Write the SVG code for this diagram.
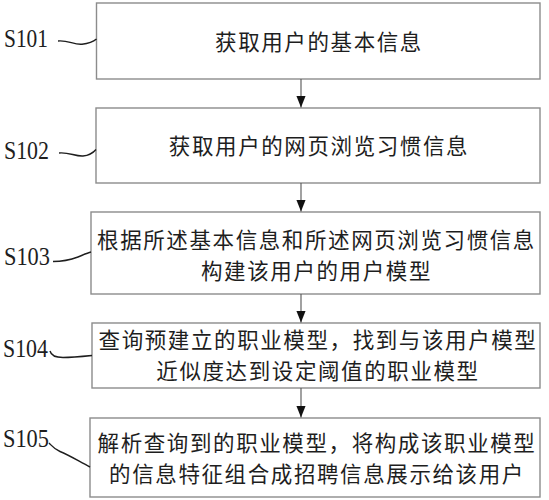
<svg xmlns="http://www.w3.org/2000/svg" width="549" height="500" viewBox="0 0 549 500">
<defs>
<style>
.box{fill:#ffffff;stroke:#8c8c8c;stroke-width:1.4}
.t2{font-family:"Noto Sans CJK SC","Noto Sans CJK TC",sans-serif;font-size:21.5px;letter-spacing:1.6px;fill:#1e1e1e;text-anchor:middle}
.lbl{font-family:"Liberation Serif","Times New Roman",serif;font-size:26px;fill:#1e1e1e}
.conn{fill:none;stroke:#555;stroke-width:1.1}
.lead{fill:none;stroke:#1e1e1e;stroke-width:1.4}
</style>
<marker id="ah" markerUnits="userSpaceOnUse" markerWidth="12" markerHeight="10" refX="12" refY="4.75" orient="auto">
<path d="M0,0 L12,4.75 L0,9.5 z" fill="#111"/>
</marker>
</defs>
<rect width="549" height="500" fill="#ffffff"/>

<g id="node-s101">
<rect class="box" x="96.5" y="3" width="443.5" height="76"/>
<text class="t2" x="319" y="50">获取用户的基本信息</text>
</g>
<g id="node-s102">
<rect class="box" x="96" y="108" width="444" height="75"/>
<text class="t2" x="319" y="153.5">获取用户的网页浏览习惯信息</text>
</g>
<g id="node-s103">
<rect class="box" x="91" y="212" width="449" height="82"/>
<text class="t2" x="316.5" y="247.5">根据所述基本信息和所述网页浏览习惯信息</text>
<text class="t2" x="316.5" y="278.5">构建该用户的用户模型</text>
</g>
<g id="node-s104">
<rect class="box" x="92" y="323" width="448" height="65"/>
<text class="t2" x="318" y="348">查询预建立的职业模型，找到与该用户模型</text>
<text class="t2" x="318" y="379">近似度达到设定阈值的职业模型</text>
</g>
<g id="node-s105">
<rect class="box" x="90" y="418" width="450" height="79"/>
<text class="t2" x="317" y="450.5">解析查询到的职业模型，将构成该职业模型</text>
<text class="t2" x="317" y="481.5">的信息特征组合成招聘信息展示给该用户</text>
</g>

<g id="labels">
<text class="lbl" x="4" y="47" textLength="44" lengthAdjust="spacingAndGlyphs">S101</text>
<text class="lbl" x="4" y="159" textLength="45" lengthAdjust="spacingAndGlyphs">S102</text>
<text class="lbl" x="4" y="265" textLength="46" lengthAdjust="spacingAndGlyphs">S103</text>
<text class="lbl" x="3" y="357" textLength="45" lengthAdjust="spacingAndGlyphs">S104</text>
<text class="lbl" x="3" y="447" textLength="46" lengthAdjust="spacingAndGlyphs">S105</text>
</g>

<g id="connectors">
<line class="conn" x1="301" y1="79" x2="301" y2="107.5" marker-end="url(#ah)"/>
<line class="conn" x1="301" y1="183" x2="301" y2="211.5" marker-end="url(#ah)"/>
<line class="conn" x1="301" y1="294" x2="301" y2="322.5" marker-end="url(#ah)"/>
<line class="conn" x1="301" y1="388" x2="301" y2="417.5" marker-end="url(#ah)"/>
<path class="lead" d="M58,41 C68,40 74,45 82,44.2 C88,43.6 93,42 96.5,39"/>
<path class="lead" d="M59,153 C69,152 75,156.5 83,156 C89,155.5 93,153 96,149.5"/>
<path class="lead" d="M53,261.5 C62,261.5 70,260 78,257 C83,255 87,253 91,252"/>
<path class="lead" d="M50,351 C51,355 55,357.5 63,357.5 C72,357.5 82,356.5 92,355.5"/>
<path class="lead" d="M49,443 C52,446 54,449 60,451.5 C70,455.5 80,462 90,467"/>
</g>
</svg>
